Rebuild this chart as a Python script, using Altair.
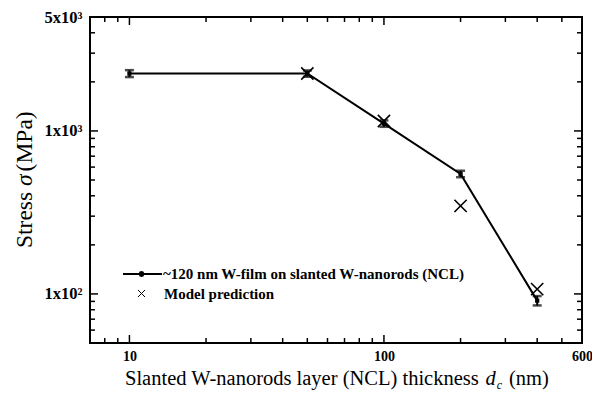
import altair as alt
import pandas as pd

# ---------------- data ----------------
thickness = [10, 50, 100, 200, 400]
stress = [2250, 2250, 1110, 545, 91]
stress_err = [110, 100, 50, 25, 6]
model_thickness = [50, 100, 200, 400]
model_stress = [2250, 1150, 347, 107]

x_label_values = [10, 100, 600]
y_label_values = [100, 1000, 5000]
y_label_text = ["1x10²", "1x10³", "5x10³"]
x_major_ticks = [10, 100]
x_minor_ticks = [8, 9, 20, 30, 40, 50, 60, 70, 80, 90, 200, 300, 400, 500]
y_major_ticks = [100, 1000]
y_minor_ticks = [60, 70, 80, 90, 200, 300, 400, 500, 600, 700, 800, 900, 2000, 3000, 4000]

legend_series = "~120 nm W-film on slanted W-nanorods (NCL)"
legend_model = "Model prediction"
x_title_parts = ["Slanted W-nanorods layer (NCL) thickness ", "d", "c", "(nm)"]
y_title_parts = ["Stress ", "σ", " (MPa)"]

# ---------------- layout ----------------
W, H = 492, 326
FONT = "Liberation Serif"

# Times-compatible advance widths (per 1000 em) for placing title pieces
TW = {' ': 250, '(': 333, ')': 333, '-': 333, 'a': 444, 'c': 444, 'd': 500, 'e': 444,
      'h': 500, 'i': 278, 'k': 500, 'l': 278, 'm': 778, 'n': 500, 'o': 500, 'r': 333,
      's': 389, 't': 278, 'y': 500, 'C': 667, 'L': 611, 'M': 889, 'N': 722, 'P': 556,
      'S': 556, 'W': 944, 'σ': 620}


def tw(s, size):
    return sum(TW.get(ch, 500) for ch in s) * size / 1000.0


xscale = alt.Scale(type="log", domain=[7, 600], nice=False)
yscale = alt.Scale(type="log", domain=[50, 5000], nice=False)

df = pd.DataFrame({
    "t": thickness,
    "s": stress,
    "lo": [s - e for s, e in zip(stress, stress_err)],
    "hi": [s + e for s, e in zip(stress, stress_err)],
})
dm = pd.DataFrame({"t": model_thickness, "s": model_stress})
one = pd.DataFrame({"i": [0]})

y_expr = " : ".join(
    f"datum.value == {v} ? '{t}'" for v, t in zip(y_label_values[:-1], y_label_text[:-1])
) + f" : '{y_label_text[-1]}'"

x_axis = alt.Axis(values=x_label_values, title=None, domain=False, ticks=False, grid=False,
                  labelFont=FONT, labelFontSize=14, labelFontWeight="bold", labelColor="black",
                  labelPadding=6, labelExpr="format(datum.value, 'd')", labelFlush=False)
y_axis = alt.Axis(values=y_label_values, title=None, domain=False, ticks=False, grid=False,
                  labelFont=FONT, labelFontSize=16.5, labelFontWeight="bold", labelColor="black",
                  labelPadding=8, labelExpr=y_expr, labelFlush=False)


def X(field):
    return alt.X(field, scale=xscale, axis=x_axis, title=None)


def Y(field):
    return alt.Y(field, scale=yscale, axis=y_axis, title=None)


line = alt.Chart(df).mark_line(color="black", strokeWidth=2).encode(x=X("t:Q"), y=Y("s:Q"))

err = alt.Chart(df).mark_rule(color="black", strokeWidth=2).encode(
    x=X("t:Q"), y=Y("lo:Q"), y2="hi:Q")
cap_lo = alt.Chart(df).mark_tick(color="black", orient="horizontal", size=9, thickness=2.5).encode(
    x=X("t:Q"), y=Y("lo:Q"))
cap_hi = alt.Chart(df).mark_tick(color="black", orient="horizontal", size=9, thickness=2.5).encode(
    x=X("t:Q"), y=Y("hi:Q"))
squares = alt.Chart(df).mark_square(color="black", size=18, opacity=1).encode(
    x=X("t:Q"), y=Y("s:Q"))

XPATH = "M-1,-1L1,1M-1,1L1,-1"
model = alt.Chart(dm).mark_point(shape=XPATH, filled=False, color="black", size=150,
                                 strokeWidth=1.6, opacity=1).encode(x=X("t:Q"), y=Y("s:Q"))


# ---------------- mirrored inward ticks ----------------
def xticks(vals, length):
    d = pd.DataFrame({"t": vals})
    bottom = alt.Chart(d).mark_rule(color="black", strokeWidth=1.5).encode(
        x=X("t:Q"), y=alt.value(H), y2=alt.value(H - length))
    top = alt.Chart(d).mark_rule(color="black", strokeWidth=1.5).encode(
        x=X("t:Q"), y=alt.value(0), y2=alt.value(length))
    return [bottom, top]


def yticks(vals, length):
    d = pd.DataFrame({"s": vals})
    left = alt.Chart(d).mark_rule(color="black", strokeWidth=1.5).encode(
        y=Y("s:Q"), x=alt.value(0), x2=alt.value(length))
    right = alt.Chart(d).mark_rule(color="black", strokeWidth=1.5).encode(
        y=Y("s:Q"), x=alt.value(W), x2=alt.value(W - length))
    return [left, right]


ticks = xticks(x_major_ticks, 8) + xticks(x_minor_ticks, 5) + yticks(y_major_ticks, 8) + yticks(y_minor_ticks, 5)

# ---------------- legend ----------------
LY1, LY2 = 257, 276.5
leg_line = alt.Chart(one).mark_rule(color="black", strokeWidth=2).encode(
    x=alt.value(33), x2=alt.value(72), y=alt.value(LY1))
leg_err = alt.Chart(one).mark_rule(color="black", strokeWidth=2).encode(
    x=alt.value(51.5), y=alt.value(LY1 - 3), y2=alt.value(LY1 + 3))
leg_sq = alt.Chart(one).mark_square(color="black", size=22, opacity=1).encode(
    x=alt.value(51.5), y=alt.value(LY1))
leg_txt1 = alt.Chart(one).mark_text(text=legend_series, font=FONT, fontSize=15, fontWeight="bold",
                                    align="left", baseline="middle", color="black").encode(
    x=alt.value(73), y=alt.value(LY1))
leg_x = alt.Chart(one).mark_point(shape=XPATH, filled=False, color="black", size=50,
                                  strokeWidth=1, opacity=1).encode(
    x=alt.value(51.5), y=alt.value(LY2))
leg_txt2 = alt.Chart(one).mark_text(text=legend_model, font=FONT, fontSize=15, fontWeight="bold",
                                    align="left", baseline="middle", color="black").encode(
    x=alt.value(74), y=alt.value(LY2))

# ---------------- axis titles (mixed styles) ----------------
XF = 20.5
xt_x0 = 35
xt_y = 368
p1, p2, p3, p4 = x_title_parts
x1 = xt_x0 + tw(p1, XF)
x2 = x1 + tw(p2, XF) + 1
x3 = x2 + tw(p3, 12) + 7
xt = [
    alt.Chart(one).mark_text(text=p1, font=FONT, fontSize=XF, align="left", baseline="alphabetic",
                             color="black").encode(x=alt.value(xt_x0), y=alt.value(xt_y)),
    alt.Chart(one).mark_text(text=p2, font=FONT, fontSize=XF, fontStyle="italic", align="left",
                             baseline="alphabetic", color="black").encode(x=alt.value(x1), y=alt.value(xt_y)),
    alt.Chart(one).mark_text(text=p3, font=FONT, fontSize=12, fontStyle="italic", align="left",
                             baseline="alphabetic", color="black").encode(x=alt.value(x2), y=alt.value(xt_y + 4)),
    alt.Chart(one).mark_text(text=p4, font=FONT, fontSize=XF, align="left", baseline="alphabetic",
                             color="black").encode(x=alt.value(x3), y=alt.value(xt_y)),
]

YF = 23.5
yt_x = -58
yt_y0 = 231
q1, q2, q3 = y_title_parts
y1 = yt_y0 - tw(q1, YF)
y2 = y1 - tw(q2, YF)
yt = [
    alt.Chart(one).mark_text(text=q1, font=FONT, fontSize=YF, angle=270, align="left",
                             baseline="alphabetic", color="black").encode(x=alt.value(yt_x), y=alt.value(yt_y0)),
    alt.Chart(one).mark_text(text=q2, font=FONT, fontSize=YF, fontStyle="italic", angle=270, align="left",
                             baseline="alphabetic", color="black").encode(x=alt.value(yt_x), y=alt.value(y1)),
    alt.Chart(one).mark_text(text=q3, font=FONT, fontSize=YF, angle=270, align="left",
                             baseline="alphabetic", color="black").encode(x=alt.value(yt_x), y=alt.value(y2)),
]

chart = alt.layer(
    line, err, cap_lo, cap_hi, squares, model, *ticks,
    leg_line, leg_err, leg_sq, leg_txt1, leg_x, leg_txt2, *xt, *yt
).properties(
    width=W, height=H,
    autosize=alt.AutoSizeParams(type="none"),
    padding={"left": 82, "top": 9, "right": 10, "bottom": 49},
    background="white",
).configure_view(stroke="black", strokeWidth=2)

chart.save("out.html", embed_options={"renderer": "svg", "actions": False})
